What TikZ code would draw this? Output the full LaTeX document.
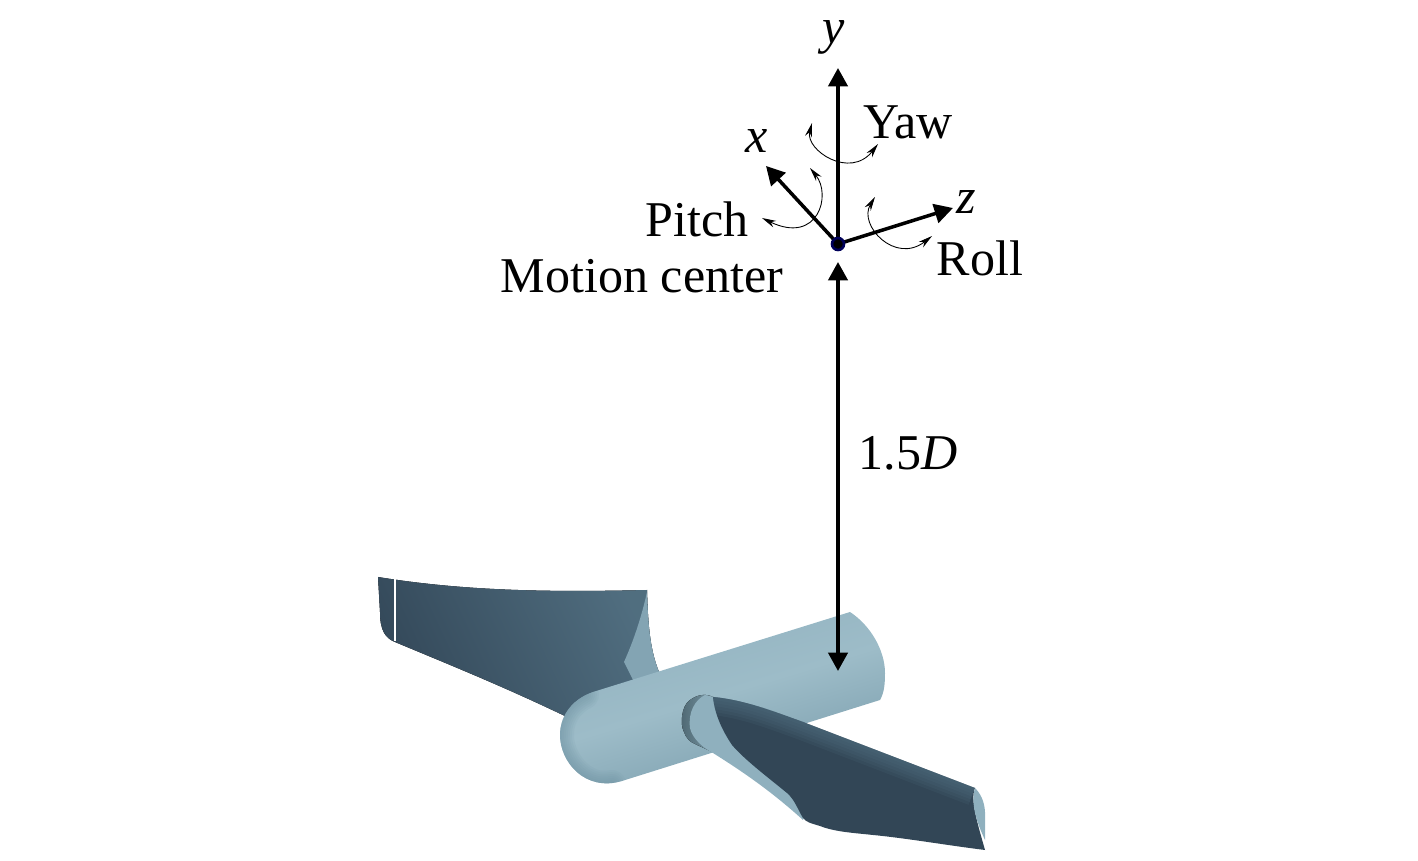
\documentclass[tikz,border=0pt]{standalone}
\usepackage{fontspec}
\setmainfont{Liberation Serif}
\usetikzlibrary{arrows.meta}
\definecolor{bladedark}{HTML}{34495A}
\definecolor{blademid}{HTML}{557486}
\definecolor{hublight}{HTML}{9DBCC8}
\definecolor{hubmid}{HTML}{8FB0BE}
\definecolor{hubdark}{HTML}{6F93A3}
\tikzset{
    lab/.style={font=\fontsize{28.5}{32}\selectfont, inner sep=0pt},
    axis/.style={line width=2pt, -{Triangle[length=10.5pt,width=11pt]}},
    dimline/.style={line width=2pt, {Triangle[length=10.5pt,width=11pt]}-{Triangle[length=10.5pt,width=11pt]}},
    rot/.style={line width=0.5pt, {Stealth[length=8pt,width=4pt]}-{Stealth[length=8pt,width=4pt]}}
}
\begin{document}
\begin{tikzpicture}[x=0.02cm,y=-0.02cm]
        \useasboundingbox (0,0) rectangle (1418,861);

        \fill[left color=bladedark, middle color=bladedark, right color=blademid!85!bladedark, shading angle=115]
            (378,577) .. controls (470,592) and (560,592) .. (647,590)
            .. controls (648,625) and (650,650) .. (659,672)
            -- (565,716) .. controls (500,685) and (450,665) .. (395,642)
            .. controls (385,638) and (380,630) .. (380,612) -- cycle;
        \fill[hubmid!80!blademid]
            (647,592) .. controls (648,625) and (650,650) .. (659,672)
            -- (633,680) -- (624,662) .. controls (634,640) and (642,615) .. (647,592) -- cycle;
        \draw[white, line width=0.9pt] (395,579) -- (395,641);

        \begin{scope}
            \clip (850,612) .. controls (870,625) and (885,650) .. (885,673)
                .. controls (885,685) and (884,693) .. (880,700)
                -- (622,781) .. controls (585,792) and (560,762) .. (560,735)
                .. controls (560,718) and (570,700) .. (593,692) -- cycle;
            \shade[top color=hubmid, bottom color=hubdark!80!hubmid, middle color=hublight, shading angle=17]
                (540,590) rectangle (900,800);
            \foreach \w in {4,8,...,28}
                \draw[hubdark, opacity=0.1, line width=\w*0.569pt, line cap=round]
                    (585,695) .. controls (568,704) and (560,718) .. (560,735)
                    .. controls (560,762) and (585,790) .. (612,784);
        \end{scope}

        \fill[left color=hubdark!70!black, right color=hubmid]
            (713,697) .. controls (705,693) and (697,695) .. (690,700)
            .. controls (681,706) and (680,725) .. (684,732)
            .. controls (686,738) and (690,742) .. (695,744)
            -- (730,760) -- cycle;
        \fill[hubmid]
            (705,695) -- (713,697) -- (820,780) -- (803,820)
            .. controls (770,790) and (740,770) .. (713,753)
            .. controls (703,748) and (692,738) .. (690,728)
            .. controls (688,712) and (695,700) .. (705,695) -- cycle;
        \begin{scope}
            \clip (713,697) .. controls (745,700) and (775,712) .. (803,722)
                -- (975,788) .. controls (970,800) and (978,825) .. (985,850)
                .. controls (945,845) and (905,838) .. (873,835)
                .. controls (855,833) and (835,832) .. (820,826)
                .. controls (810,823) and (806,822) .. (803,818)
                .. controls (798,810) and (795,800) .. (787,793)
                .. controls (765,775) and (745,760) .. (732,745)
                .. controls (722,730) and (715,715) .. (713,697) -- cycle;
            \fill[bladedark!96!black] (700,690) rectangle (990,855);
            \foreach \w in {6,12,...,36}
                \draw[blademid, opacity=0.14, line width=\w*0.569pt]
                    (713,697) .. controls (745,700) and (775,712) .. (803,722) -- (975,788);
        \end{scope}
        \fill[hubmid]
            (975,788) .. controls (982,795) and (986,805) .. (985,820)
            -- (985,840) .. controls (978,825) and (970,805) .. (975,788) -- cycle;

        \coordinate (centre) at (838,244);
        \coordinate (yend) at (838,68);
        \coordinate (xend) at (766,166);
        \coordinate (zend) at (953,208);
        \coordinate (dimtop) at (838,262);
        \coordinate (dimbot) at (838,671);

        \draw[axis] (centre) -- (yend);
        \draw[axis] (centre) -- (xend);
        \draw[axis] (centre) -- (zend);
        \draw[dimline] (dimtop) -- (dimbot);
        \fill[black, draw=blue!35!black, line width=1.5pt] (centre) circle (6);

        \coordinate (yawa) at (812,123);
        \coordinate (yawb) at (878,144);
        \coordinate (pitcha) at (810,168);
        \coordinate (pitchb) at (762,218);
        \coordinate (rolla) at (875,197);
        \coordinate (rollb) at (932,236);
        \draw[rot] (yawa) .. controls (805,150) and (850,180) .. (yawb);
        \draw[rot] (pitcha) .. controls (832,195) and (818,245) .. (pitchb);
        \draw[rot] (rolla) .. controls (858,225) and (895,265) .. (rollb);

        \node[lab] (ylab) at (834,37) {\textit{y}};
        \node[lab] (xlab) at (757,141) {\textit{x}};
        \node[lab] (zlab) at (966,202) {\textit{z}};
        \node[lab] (yaw) at (908,122) {Yaw};
        \node[lab] (pitch) at (697,219) {Pitch};
        \node[lab] (roll) at (980,258) {Roll};
        \node[lab] (motion) at (642,276) {Motion center};
        \node[lab] (dist) at (908,453) {1.5\textit{D}};
\end{tikzpicture}
\end{document}
